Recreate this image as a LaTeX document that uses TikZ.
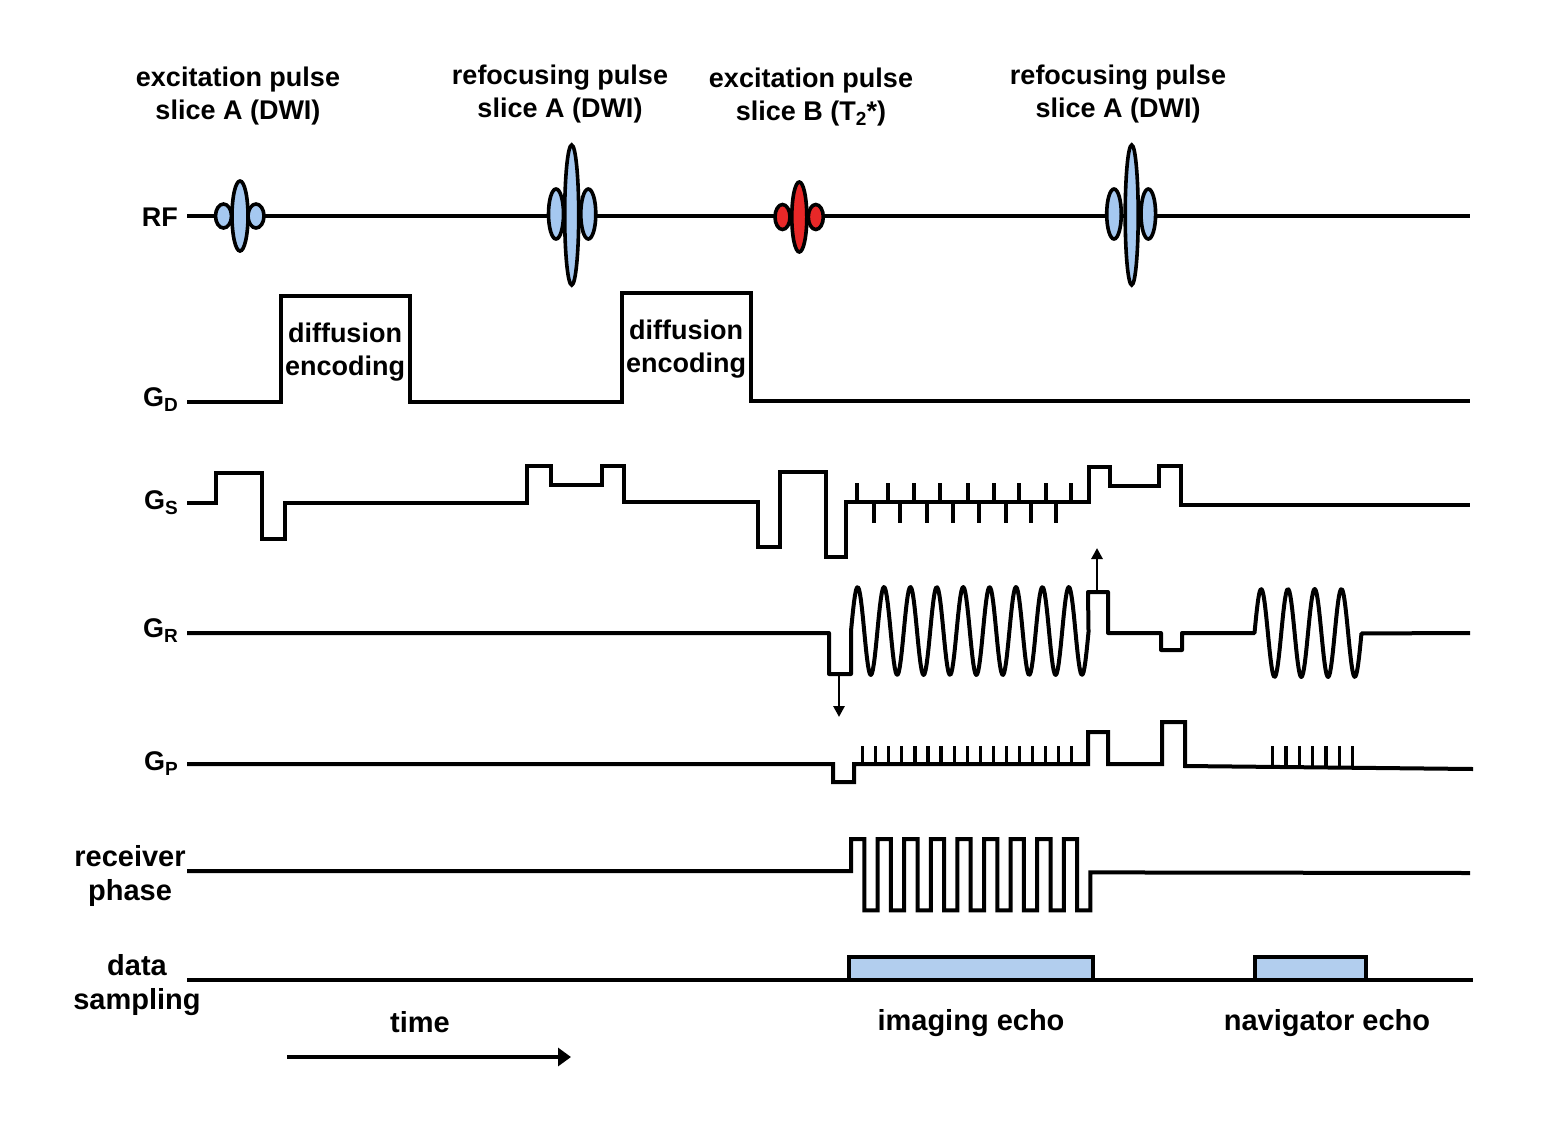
\documentclass[tikz,border=0pt]{standalone}
\usepackage{fontspec}
\setmainfont{Liberation Sans}
\usetikzlibrary{arrows.meta}

\definecolor{pulseblue}{RGB}{165,200,240}
\definecolor{pulsered}{RGB}{232,40,40}
\definecolor{sampleblue}{RGB}{178,206,238}
\newcommand{\lowsub}[1]{\raisebox{-5pt}{\fontsize{19}{19}\selectfont #1}}

\tikzset{
  lbl/.style={font=\fontsize{27}{33}\selectfont\bfseries, align=center, inner sep=0pt},
  biglbl/.style={lbl, font=\fontsize{29}{34}\selectfont\bfseries},
  chan/.style={lbl, anchor=east},
  trace/.style={line width=4pt},
  tickmark/.style={line width=3.2pt},
  lobe/.style={line width=3.6pt, fill=pulseblue},
  redlobe/.style={line width=3.6pt, fill=pulsered},
  sampbox/.style={line width=3.5pt, fill=sampleblue},
  marker/.style={line width=2.8pt, -{Triangle[length=11pt,width=11pt]}}
}

\begin{document}
\begin{tikzpicture}[x=1pt, y=-1pt]
    \useasboundingbox (0,0) rectangle (1550,1125);

    % pulse labels
    \node[lbl] (lblexca) at (238,96) {excitation pulse\\slice A (DWI)};
    \node[lbl] (lblrefa) at (560,94) {refocusing pulse\\slice A (DWI)};
    \node[lbl] (lblexcb) at (811,97) {excitation pulse\\slice B (T\lowsub{2}*)};
    \node[lbl] (lblrefb) at (1118,94) {refocusing pulse\\slice A (DWI)};

    % channel labels
    \node[chan] (lblrf) at (178,217) {RF};
    \node[chan] (lblgd) at (178,400) {G\lowsub{D}};
    \node[chan] (lblgs) at (178,503) {G\lowsub{S}};
    \node[chan] (lblgr) at (178,631) {G\lowsub{R}};
    \node[chan] (lblgp) at (178,764) {G\lowsub{P}};
    \node[biglbl] (lblrx) at (130,876) {receiver\\phase};
    \node[biglbl] (lblds) at (137,985) {data\\sampling};

    % RF
    \draw[trace] (187,216) -- (1470,216); % RF line
    \filldraw[lobe] (223.5,216) ellipse (8pt and 12pt); % excitation A
    \filldraw[lobe] (256,216) ellipse (8pt and 12pt);
    \filldraw[lobe] (240,216) ellipse (8pt and 35pt);
    \filldraw[lobe] (556,214) ellipse (7.5pt and 25pt); % refocusing A
    \filldraw[lobe] (588.3,214) ellipse (7.5pt and 25pt);
    \filldraw[lobe] (571.7,215) ellipse (7pt and 70pt);
    \filldraw[redlobe] (782.5,217) ellipse (7.5pt and 12.5pt); % excitation B
    \filldraw[redlobe] (815.8,217) ellipse (7.5pt and 12.5pt);
    \filldraw[redlobe] (799.3,217) ellipse (7.5pt and 35pt);
    \filldraw[lobe] (1114,214) ellipse (7.3pt and 25pt); % refocusing A
    \filldraw[lobe] (1148.3,214) ellipse (7.3pt and 25pt);
    \filldraw[lobe] (1131.7,215) ellipse (6.5pt and 70pt);

    % G_D
    \draw[trace] (187,402) -- (281,402) -- (281,296) -- (410,296) -- (410,402)
        -- (622,402) -- (622,293) -- (751,293) -- (751,401) -- (1470,401);
    \node[lbl] (lbldifa) at (345,352) {diffusion\\encoding};
    \node[lbl] (lbldifb) at (686,349) {diffusion\\encoding};

    % G_S
    \draw[trace] (187,503) -- (216,503) -- (216,473) -- (262,473) -- (262,539)
        -- (285,539) -- (285,503) -- (527,503) -- (527,466) -- (551,466)
        -- (551,485) -- (602,485) -- (602,466) -- (624,466) -- (624,502)
        -- (758,502) -- (758,547) -- (780,547) -- (780,472) -- (826,472)
        -- (826,557) -- (846,557) -- (846,502) -- (1089,502) -- (1089,467)
        -- (1110,467) -- (1110,486) -- (1159,486) -- (1159,466) -- (1181,466)
        -- (1181,505) -- (1470,505);
    \foreach \tx in {857,888,914,940,968,994,1019,1046,1071}
        \draw[tickmark] (\tx,502) -- (\tx,483); % blips up
    \foreach \tx in {874,900,927,953,979,1006,1031,1056}
        \draw[tickmark] (\tx,502) -- (\tx,523); % blips down

    % G_R
    \draw[trace, line join=round] (187,633) -- (829,633) -- (829,674) -- (851,674) -- (851,631)
        -- plot[domain=0:9, samples=240] ({851+26.4*\x}, {631-44*sin(360*\x)})
        -- (1088,592) -- (1108,592) -- (1108,633) -- (1161,633) -- (1161,650)
        -- (1182,650) -- (1182,633) -- (1254.5,633)
        -- plot[domain=0:4, samples=120] ({1254.5+26.75*\x}, {633-44*sin(360*\x)})
        -- (1470,633);
    \coordinate (grdip) at (839,674);
    \coordinate (grdipend) at (839,717);
    \coordinate (grtop) at (1097,592);
    \coordinate (grtopend) at (1097,548);
    \draw[marker] (grdip) -- (grdipend);
    \draw[marker] (grtop) -- (grtopend);

    % G_P
    \draw[trace] (187,764) -- (833,764) -- (833,782) -- (854,782) -- (854,764)
        -- (1088,764) -- (1088,732) -- (1108,732) -- (1108,764) -- (1162,764)
        -- (1162,722) -- (1185,722) -- (1185,766) -- (1473,769);
    \foreach \i in {0,...,16}
        \draw[tickmark] ({862.7+13.06*\i},764) -- ({862.7+13.06*\i},746); % phase blips
    \foreach \i in {0,...,6}
        \draw[tickmark] ({1272.7+13.3*\i},767) -- ({1272.7+13.3*\i},746); % navigator blips

    % receiver phase
    \draw[trace] (187,871) -- (851,871) -- (851,839)
        \foreach \k in {1,...,8} { -- ++(13.3,0) -- ++(0,71.4) -- ++(13.3,0) -- ++(0,-71.4) }
        -- ++(13.3,0) -- ++(0,71.4) -- ++(13.3,0) -- ++(0,-38) -- (1470,873);

    % data sampling
    \draw[trace] (187,980) -- (1473,980);
    \filldraw[sampbox] (849,980) rectangle (1093,957); % imaging window
    \filldraw[sampbox] (1255,980) rectangle (1366,957); % navigator window
    \node[biglbl] (lblimg) at (971,1023) {imaging echo};
    \node[biglbl] (lblnav) at (1327,1023) {navigator echo};

    % time axis
    \node[biglbl] (lbltime) at (420,1022) {time};
    \coordinate (tstart) at (287,1057);
    \coordinate (tend) at (571,1057);
    \draw[line width=4pt, -{Triangle[length=13pt,width=18pt]}] (tstart) -- (tend);
\end{tikzpicture}
\end{document}
